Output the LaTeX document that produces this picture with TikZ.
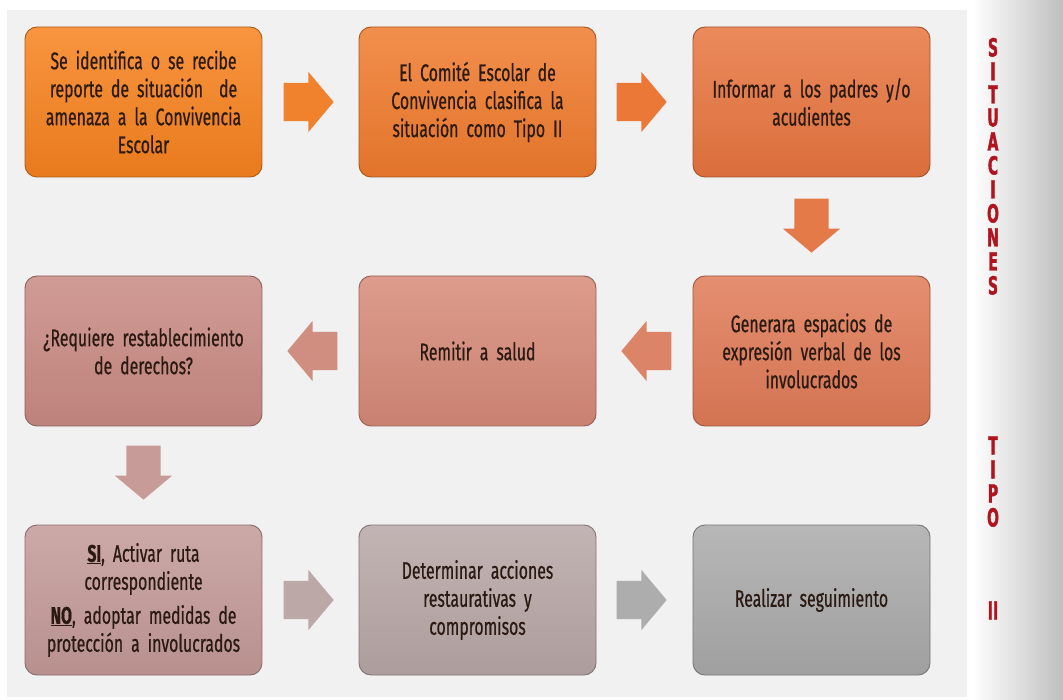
\documentclass[tikz,border=0pt]{standalone}
\usepackage{fontspec}
\setmainfont[FakeStretch=0.66, FakeBold=0.6]{Fira Sans}
\newfontfamily\vfont[FakeStretch=0.56, FakeBold=1.5]{DejaVu Sans}
\usetikzlibrary{shapes.arrows,calc}
\definecolor{panel}{HTML}{F1F1F1}
\definecolor{txt}{HTML}{2A1A12}
\definecolor{vred}{HTML}{B0141E}
\definecolor{c1}{HTML}{F7821E}
\definecolor{c2}{HTML}{F07B2D}
\definecolor{c3}{HTML}{E8753F}
\definecolor{c6}{HTML}{E07B57}
\definecolor{c5}{HTML}{D68A78}
\definecolor{c4}{HTML}{C98A83}
\definecolor{c7}{HTML}{C39A97}
\definecolor{c8}{HTML}{B8A7A7}
\definecolor{c9}{HTML}{AAAAAA}
\definecolor{a1}{HTML}{F0822E}
\definecolor{a2}{HTML}{EC7838}
\definecolor{a3}{HTML}{E47A48}
\definecolor{a4}{HTML}{DB8468}
\definecolor{a5}{HTML}{CF8E80}
\definecolor{a6}{HTML}{C79C98}
\definecolor{a7}{HTML}{BDA8A8}
\definecolor{a8}{HTML}{ADADAD}
\tikzset{
  box/.style={rounded corners=12pt, minimum width=237pt, minimum height=150pt,
    draw=#1!70!black, line width=0.9pt, top color=#1!85!white, bottom color=#1!94!black,
    text=txt, align=center, font=\fontsize{24}{28}\selectfont, text width=230pt, inner sep=0pt},
  blockarrow/.style={single arrow, draw=none, fill=#1, minimum height=50pt, minimum width=60pt,
    single arrow head extend=11pt, single arrow tip angle=100, inner sep=0pt, anchor=tail},
  vletter/.style={text=vred, font=\vfont\bfseries\fontsize{25}{25}\selectfont, inner sep=0pt,
    text height=17pt, text depth=0pt}
}
\newcommand{\shaft}[1]{\rule{0pt}{#1}}
\begin{document}
\begin{tikzpicture}[x=1pt,y=-1pt]
\useasboundingbox (0,0) rectangle (1063,700);
\fill[white] (0,0) rectangle (1063,700);
\fill[panel] (7,10) rectangle (967,697);
\shade[left color=white, right color=black!25] (972,0) rectangle (1063,700);

% boxes
\node[box=c1] (b1) at (143.5,102) {Se identifica o se recibe\\ reporte de situación~ de\\ amenaza a la Convivencia\\ Escolar};
\node[box=c2] (b2) at (477.5,102) {El Comité Escolar de\\ Convivencia clasifica la\\ situación como Tipo II};
\node[box=c3] (b3) at (811.5,102) {Informar a los padres y/o\\ acudientes};
\node[box=c6] (b6) at (811.5,351) {Generara espacios de\\ expresión verbal de los\\ involucrados};
\node[box=c5] (b5) at (477.5,351) {Remitir a salud};
\node[box=c4] (b4) at (143.5,351) {¿Requiere restablecimiento\\ de derechos?};
\node[box=c7] (b7) at (143.5,600) {\underline{\textbf{SI}}, Activar ruta\\ correspondiente\\[6pt] \underline{\textbf{NO}}, adoptar medidas de\\ protección a involucrados};
\node[box=c8] (b8) at (477.5,600) {Determinar acciones\\ restaurativas y\\ compromisos};
\node[box=c9] (b9) at (811.5,600) {Realizar seguimiento};

% arrows
\node[blockarrow=a1] (r1) at ($(b1.east)+(21,0)$) {\shaft{38pt}};
\node[blockarrow=a2] (r2) at ($(b2.east)+(20,0)$) {\shaft{38pt}};
\node[blockarrow=a3, rotate=-90, minimum height=54pt, minimum width=57pt, single arrow head extend=11.5pt] (d1) at ($(b3.south)+(0,21)$) {\shaft{34pt}};
\node[blockarrow=a4, rotate=180] (l1) at ($(b6.west)+(-21,0)$) {\shaft{38pt}};
\node[blockarrow=a5, rotate=180] (l2) at ($(b5.west)+(-21,0)$) {\shaft{38pt}};
\node[blockarrow=a6, rotate=-90, minimum height=54pt, minimum width=57pt, single arrow head extend=11.5pt] (d2) at ($(b4.south)+(0,19)$) {\shaft{34pt}};
\node[blockarrow=a7] (r3) at ($(b7.east)+(21,0)$) {\shaft{38pt}};
\node[blockarrow=a8] (r4) at ($(b8.east)+(20,0)$) {\shaft{38pt}};

% vertical title
\foreach \ch/\yy [count=\i] in {S/48,I/72,T/95,U/118,A/142,C/166,I/190,O/214,N/238,E/262,S/286,T/446,I/470,P/494,O/518,II/611}
  \node[vletter] (v\i) at (993,\yy) {\ch};
\end{tikzpicture}
\end{document}
